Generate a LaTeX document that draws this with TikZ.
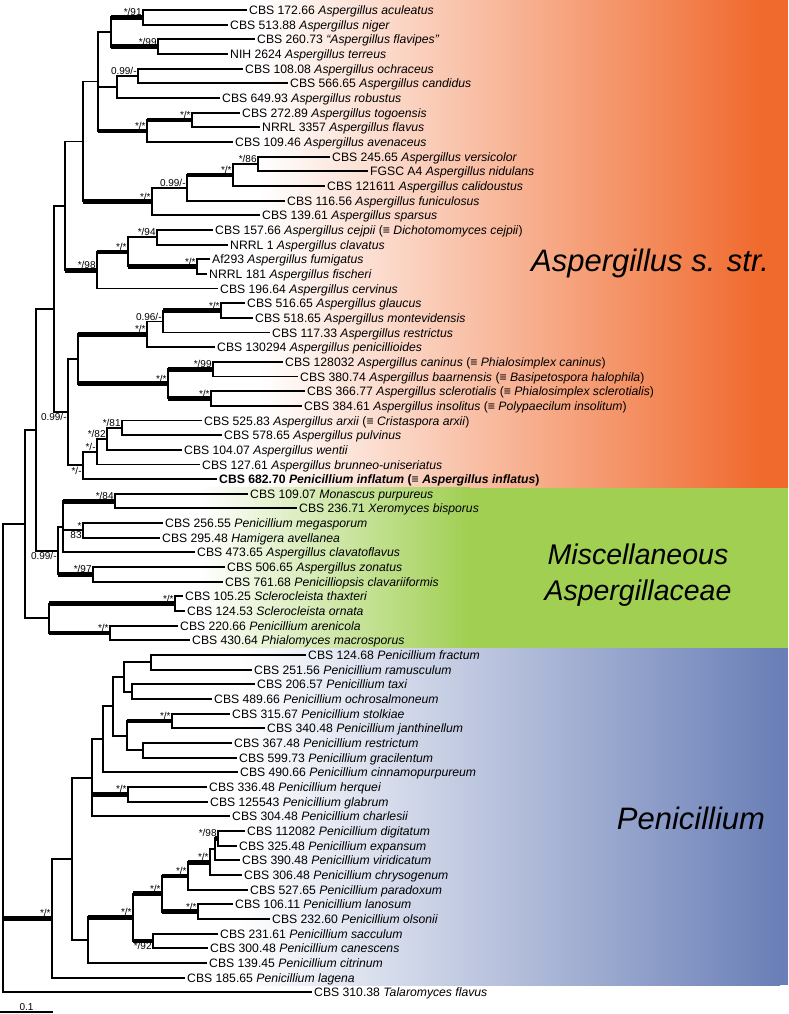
\documentclass[tikz,border=0pt]{standalone}
\usepackage{fontspec}
\setmainfont{Liberation Sans}
\definecolor{aspor}{RGB}{240,106,46}
\definecolor{misgr}{RGB}{160,207,82}
\definecolor{penbl}{RGB}{106,127,183}
\tikzset{
  br/.style={line width=1.9pt},
  brk/.style={line width=4.8pt},
  leaf/.style={anchor=west, inner sep=2pt, text height=9pt, text depth=0pt, font=\fontsize{12.2}{15}\selectfont},
  bs/.style={inner sep=1.2pt, font=\fontsize{10}{12}\selectfont},
  grp/.style={font=\fontsize{31}{36}\selectfont\itshape, align=center}
}
\begin{document}
\begin{tikzpicture}[x=1pt,y=-1pt]
\useasboundingbox (0,0) rectangle (788,1014);
\shade[left color=white, right color=aspor] (260,0) rectangle (760,487.5);
\fill[aspor] (759,0) rectangle (788,487.5);
\shade[left color=white, right color=misgr] (200,487.5) rectangle (470,648);
\fill[misgr] (469,487.5) rectangle (788,648);
\shade[left color=white, right color=penbl] (240,648) rectangle (780,985);
\fill[penbl] (779,648) rectangle (788,985);
\node[grp] (gasp) at (650,263) {Aspergillus s. str.};
\node[grp, font=\fontsize{28.5}{36}\selectfont\itshape] (gmis) at (638,575) {Miscellaneous\\Aspergillaceae};
\node[grp] (gpen) at (691,818) {Penicillium};

\node[leaf] (acul) at (247,10.0) {CBS 172.66 \textit{Aspergillus aculeatus}};
\node[leaf] (niger) at (228,24.7) {CBS 513.88 \textit{Aspergillus niger}};
\node[leaf] (flavip) at (255,39.3) {CBS 260.73 \textit{“Aspergillus flavipes”}};
\node[leaf] (terreus) at (228,54.0) {NIH 2624 \textit{Aspergillus terreus}};
\node[leaf] (ochrac) at (243,68.6) {CBS 108.08 \textit{Aspergillus ochraceus}};
\node[leaf] (candid) at (288,83.3) {CBS 566.65 \textit{Aspergillus candidus}};
\node[leaf] (robust) at (220,98.0) {CBS 649.93 \textit{Aspergillus robustus}};
\node[leaf] (togo) at (240,112.6) {CBS 272.89 \textit{Aspergillus togoensis}};
\node[leaf] (flavus) at (260,127.3) {NRRL 3357 \textit{Aspergillus flavus}};
\node[leaf] (avena) at (233,141.9) {CBS 109.46 \textit{Aspergillus avenaceus}};
\node[leaf] (versi) at (330,156.6) {CBS 245.65 \textit{Aspergillus versicolor}};
\node[leaf] (nidul) at (368,171.3) {FGSC A4 \textit{Aspergillus nidulans}};
\node[leaf] (calid) at (325,185.9) {CBS 121611 \textit{Aspergillus calidoustus}};
\node[leaf] (funic) at (285,200.6) {CBS 116.56 \textit{Aspergillus funiculosus}};
\node[leaf] (spars) at (260,215.2) {CBS 139.61 \textit{Aspergillus sparsus}};
\node[leaf] (cejpii) at (213,229.9) {CBS 157.66 \textit{Aspergillus cejpii} (≡ \textit{Dichotomomyces cejpii})};
\node[leaf] (clava) at (228,244.6) {NRRL 1 \textit{Aspergillus clavatus}};
\node[leaf] (fumig) at (210,259.2) {Af293 \textit{Aspergillus fumigatus}};
\node[leaf] (fisch) at (207,273.9) {NRRL 181 \textit{Aspergillus fischeri}};
\node[leaf] (cervin) at (218,288.5) {CBS 196.64 \textit{Aspergillus cervinus}};
\node[leaf] (glauc) at (245,303.2) {CBS 516.65 \textit{Aspergillus glaucus}};
\node[leaf] (monte) at (253,317.9) {CBS 518.65 \textit{Aspergillus montevidensis}};
\node[leaf] (restr) at (270,332.5) {CBS 117.33 \textit{Aspergillus restrictus}};
\node[leaf] (penici) at (215,347.2) {CBS 130294 \textit{Aspergillus penicillioides}};
\node[leaf] (canin) at (283,361.8) {CBS 128032 \textit{Aspergillus caninus} (≡ \textit{Phialosimplex caninus})};
\node[leaf] (baarn) at (298,376.5) {CBS 380.74 \textit{Aspergillus baarnensis} (≡ \textit{Basipetospora halophila})};
\node[leaf] (sclero) at (305,391.2) {CBS 366.77 \textit{Aspergillus sclerotialis} (≡ \textit{Phialosimplex sclerotialis})};
\node[leaf] (insol) at (302,405.8) {CBS 384.61 \textit{Aspergillus insolitus} (≡ \textit{Polypaecilum insolitum})};
\node[leaf] (arxii) at (202,420.5) {CBS 525.83 \textit{Aspergillus arxii} (≡ \textit{Cristaspora arxii})};
\node[leaf] (pulvin) at (222,435.1) {CBS 578.65 \textit{Aspergillus pulvinus}};
\node[leaf] (wentii) at (182,449.8) {CBS 104.07 \textit{Aspergillus wentii}};
\node[leaf] (brunn) at (200,464.5) {CBS 127.61 \textit{Aspergillus brunneo-uniseriatus}};
\node[leaf] (inflat) at (217,479.1) {\bfseries CBS 682.70 \textit{Penicillium inflatum} (≡ \textit{Aspergillus inflatus})};
\node[leaf] (monasc) at (248,493.8) {CBS 109.07 \textit{Monascus purpureus}};
\node[leaf] (xero) at (297,508.4) {CBS 236.71 \textit{Xeromyces bisporus}};
\node[leaf] (megas) at (163,523.1) {CBS 256.55 \textit{Penicillium megasporum}};
\node[leaf] (hamig) at (160,537.8) {CBS 295.48 \textit{Hamigera avellanea}};
\node[leaf] (clavfl) at (195,552.4) {CBS 473.65 \textit{Aspergillus clavatoflavus}};
\node[leaf] (zonat) at (225,567.1) {CBS 506.65 \textit{Aspergillus zonatus}};
\node[leaf] (clavar) at (223,581.7) {CBS 761.68 \textit{Penicilliopsis clavariiformis}};
\node[leaf] (thaxt) at (183,596.4) {CBS 105.25 \textit{Sclerocleista thaxteri}};
\node[leaf] (ornata) at (185,611.1) {CBS 124.53 \textit{Sclerocleista ornata}};
\node[leaf] (arenic) at (178,625.7) {CBS 220.66 \textit{Penicillium arenicola}};
\node[leaf] (phialo) at (190,640.4) {CBS 430.64 \textit{Phialomyces macrosporus}};
\node[leaf] (fract) at (306,655.0) {CBS 124.68 \textit{Penicillium fractum}};
\node[leaf] (ramus) at (252,669.7) {CBS 251.56 \textit{Penicillium ramusculum}};
\node[leaf] (taxi) at (255,684.4) {CBS 206.57 \textit{Penicillium taxi}};
\node[leaf] (ochros) at (212,699.0) {CBS 489.66 \textit{Penicillium ochrosalmoneum}};
\node[leaf] (stolk) at (230,713.7) {CBS 315.67 \textit{Penicillium stolkiae}};
\node[leaf] (janth) at (265,728.3) {CBS 340.48 \textit{Penicillium janthinellum}};
\node[leaf] (restrm) at (232,743.0) {CBS 367.48 \textit{Penicillium restrictum}};
\node[leaf] (gracil) at (237,757.7) {CBS 599.73 \textit{Penicillium gracilentum}};
\node[leaf] (cinnam) at (238,772.3) {CBS 490.66 \textit{Penicillium cinnamopurpureum}};
\node[leaf] (herq) at (207,787.0) {CBS 336.48 \textit{Penicillium herquei}};
\node[leaf] (glabr) at (208,801.6) {CBS 125543 \textit{Penicillium glabrum}};
\node[leaf] (charl) at (230,816.3) {CBS 304.48 \textit{Penicillium charlesii}};
\node[leaf] (digit) at (245,831.0) {CBS 112082 \textit{Penicillium digitatum}};
\node[leaf] (expan) at (237,845.6) {CBS 325.48 \textit{Penicillium expansum}};
\node[leaf] (virid) at (240,860.3) {CBS 390.48 \textit{Penicillium viridicatum}};
\node[leaf] (chrys) at (242,874.9) {CBS 306.48 \textit{Penicillium chrysogenum}};
\node[leaf] (parad) at (248,889.6) {CBS 527.65 \textit{Penicillium paradoxum}};
\node[leaf] (lanos) at (233,904.3) {CBS 106.11 \textit{Penicillium lanosum}};
\node[leaf] (olson) at (270,918.9) {CBS 232.60 \textit{Penicillium olsonii}};
\node[leaf] (saccul) at (218,933.6) {CBS 231.61 \textit{Penicillium sacculum}};
\node[leaf] (canesc) at (208,948.2) {CBS 300.48 \textit{Penicillium canescens}};
\node[leaf] (citrin) at (207,962.9) {CBS 139.45 \textit{Penicillium citrinum}};
\node[leaf] (lagena) at (185,977.6) {CBS 185.65 \textit{Penicillium lagena}};
\node[leaf] (talaro) at (312,992.2) {CBS 310.38 \textit{Talaromyces flavus}};

% inner nodes
\coordinate (a1) at (143,17.3);
\coordinate (a2) at (158,46.7);
\coordinate (a3) at (111,32);
\coordinate (a4) at (138,76);
\coordinate (a5) at (117,87);
\coordinate (a6) at (192,120);
\coordinate (a7) at (147,131);
\coordinate (a8) at (98,81.5);
\coordinate (a9) at (258,164);
\coordinate (a10) at (233,175);
\coordinate (a11) at (187,188);
\coordinate (a12) at (152,201.5);
\coordinate (a13) at (83,141.5);
\coordinate (a14) at (157,237.2);
\coordinate (a15) at (197,266.5);
\coordinate (a16) at (128,252);
\coordinate (a17) at (97,270.2);
\coordinate (a18) at (65,206);
\coordinate (a19) at (221,310.5);
\coordinate (a20) at (163,321.5);
\coordinate (a21) at (147,334.4);
\coordinate (a22) at (213,369.2);
\coordinate (a23) at (211,398.5);
\coordinate (a24) at (168,383.8);
\coordinate (a25) at (78,359);
\coordinate (a26) at (122,427.8);
\coordinate (a27) at (107,438.8);
\coordinate (a28) at (97,451.6);
\coordinate (a29) at (83,465.4);
\coordinate (a30) at (68,412.2);
\coordinate (a31) at (54,309);
\coordinate (a32) at (36,429.8);
\coordinate (m1) at (115,501.1);
\coordinate (m2) at (83,530.4);
\coordinate (m3) at (63,527);
\coordinate (m4) at (93,574.4);
\coordinate (m5) at (58,550.6);
\coordinate (m6) at (175,603.8);
\coordinate (m7) at (110,633);
\coordinate (m8) at (49,618.4);
\coordinate (r1) at (25,524);
\coordinate (p1) at (151,662.4);
\coordinate (p2) at (132,691.7);
\coordinate (p3) at (124,677);
\coordinate (p4) at (172,721);
\coordinate (p5) at (143,750.4);
\coordinate (p6) at (127,735.7);
\coordinate (p7) at (113,706.4);
\coordinate (p8) at (103,739.4);
\coordinate (p9) at (128,794.3);
\coordinate (p10) at (92,777.9);
\coordinate (p11) at (218,838.3);
\coordinate (p12) at (215,849.3);
\coordinate (p13) at (210,862.1);
\coordinate (p14) at (188,875.9);
\coordinate (p15) at (198,911.6);
\coordinate (p16) at (162,893.7);
\coordinate (p17) at (153,940.9);
\coordinate (p18) at (133,917.3);
\coordinate (p19) at (88,940.1);
\coordinate (p20) at (72,859);
\coordinate (p21) at (52,918.3);
\coordinate (root) at (3,758);

% forks
\draw[br] (acul.west) -| (a1) |- (niger.west);
\draw[br] (flavip.west) -| (a2) |- (terreus.west);
\draw[br] (a1) -| (a3) |- (a2);
\draw[br] (ochrac.west) -| (a4) |- (candid.west);
\draw[br] (a4) -| (a5) |- (robust.west);
\draw[br] (togo.west) -| (a6) |- (flavus.west);
\draw[br] (a6) -| (a7) |- (avena.west);
\draw[br] (a3) -| (a8) |- (a7) (a8) |- (a5);
\draw[br] (versi.west) -| (a9) |- (nidul.west);
\draw[br] (a9) -| (a10) |- (calid.west);
\draw[br] (a10) -| (a11) |- (funic.west);
\draw[br] (a11) -| (a12) |- (spars.west);
\draw[br] (a8) -| (a13) |- (a12);
\draw[br] (cejpii.west) -| (a14) |- (clava.west);
\draw[br] (fumig.west) -| (a15) |- (fisch.west);
\draw[br] (a14) -| (a16) |- (a15);
\draw[br] (a16) -| (a17) |- (cervin.west);
\draw[br] (a13) -| (a18) |- (a17);
\draw[br] (glauc.west) -| (a19) |- (monte.west);
\draw[br] (a19) -| (a20) |- (restr.west);
\draw[br] (a20) -| (a21) |- (penici.west);
\draw[br] (canin.west) -| (a22) |- (baarn.west);
\draw[br] (sclero.west) -| (a23) |- (insol.west);
\draw[br] (a22) -| (a24) |- (a23);
\draw[br] (a21) -| (a25) |- (a24);
\draw[br] (arxii.west) -| (a26) |- (pulvin.west);
\draw[br] (a26) -| (a27) |- (wentii.west);
\draw[br] (a27) -| (a28) |- (brunn.west);
\draw[br] (a28) -| (a29) |- (inflat.west);
\draw[br] (a25) -| (a30) |- (a29);
\draw[br] (a18) -| (a31) |- (a30);
\draw[br] (monasc.west) -| (m1) |- (xero.west);
\draw[br] (megas.west) -| (m2) |- (hamig.west);
\draw[br] (m1) -| (m3) |- (clavfl.west) (m3) |- (m2);
\draw[br] (zonat.west) -| (m4) |- (clavar.west);
\draw[br] (m3) -| (m5) |- (m4);
\draw[br] (a31) -| (a32) |- (m5);
\draw[br] (thaxt.west) -| (m6) |- (ornata.west);
\draw[br] (arenic.west) -| (m7) |- (phialo.west);
\draw[br] (m6) -| (m8) |- (m7);
\draw[br] (a32) -| (r1) |- (m8);
\draw[br] (fract.west) -| (p1) |- (ramus.west);
\draw[br] (taxi.west) -| (p2) |- (ochros.west);
\draw[br] (p1) -| (p3) |- (p2);
\draw[br] (stolk.west) -| (p4) |- (janth.west);
\draw[br] (restrm.west) -| (p5) |- (gracil.west);
\draw[br] (p4) -| (p6) |- (p5);
\draw[br] (p3) -| (p7) |- (p6);
\draw[br] (p7) -| (p8) |- (cinnam.west);
\draw[br] (herq.west) -| (p9) |- (glabr.west);
\draw[br] (p8) -| (p10) |- (charl.west) (p10) |- (p9);
\draw[br] (digit.west) -| (p11) |- (expan.west);
\draw[br] (p11) -| (p12) |- (virid.west);
\draw[br] (p12) -| (p13) |- (chrys.west);
\draw[br] (p13) -| (p14) |- (parad.west);
\draw[br] (lanos.west) -| (p15) |- (olson.west);
\draw[br] (p14) -| (p16) |- (p15);
\draw[br] (saccul.west) -| (p17) |- (canesc.west);
\draw[br] (p16) -| (p18) |- (p17);
\draw[br] (p18) -| (p19) |- (citrin.west);
\draw[br] (p10) -| (p20) |- (p19);
\draw[br] (p20) -| (p21) |- (lagena.west);
\draw[br] (r1) -| (root) |- (talaro.west) (root) |- (p21);

% supported branches
\draw[brk] (a3 |- a1) -- (a1);
\draw[brk] (a3 |- a2) -- (a2);
\draw[brk] (a7 |- a6) -- (a6);
\draw[brk] (a8 |- a7) -- (a7);
\draw[brk] (a11 |- a10) -- (a10);
\draw[brk] (a13 |- a12) -- (a12);
\draw[brk] (a16 |- a15) -- (a15);
\draw[brk] (a17 |- a16) -- (a16);
\draw[brk] (a18 |- a17) -- (a17);
\draw[brk] (a20 |- a19) -- (a19);
\draw[brk] (a25 |- a21) -- (a21);
\draw[brk] (a24 |- a22) -- (a22);
\draw[brk] (a24 |- a23) -- (a23);
\draw[brk] (a25 |- a24) -- (a24);
\draw[brk] (m3 |- m1) -- (m1);
\draw[brk] (m5 |- m4) -- (m4);
\draw[brk] (m8 |- m6) -- (m6);
\draw[brk] (m8 |- m7) -- (m7);
\draw[brk] (p6 |- p4) -- (p4);
\draw[brk] (p10 |- p9) -- (p9);
\draw[brk] (p12 |- p11) -- (p11);
\draw[brk] (p14 |- p13) -- (p13);
\draw[brk] (p16 |- p14) -- (p14);
\draw[brk] (p16 |- p15) -- (p15);
\draw[brk] (p18 |- p16) -- (p16);
\draw[brk] (p18 |- p17) -- (p17);
\draw[brk] (p19 |- p18) -- (p18);
\draw[brk] (root |- p21) -- (p21);

% support values
\node[bs, above left] (s1) at (a1) {*/91};
\node[bs, above left] (s2) at (a2) {*/99};
\node[bs, above left] (s4) at (a4) {0.99/-};
\node[bs, above left] (s6) at (a6) {*/*};
\node[bs, above left] (s7) at (a7) {*/*};
\node[bs, above left] (s9) at (a9) {*/86};
\node[bs, above left] (s10) at (a10) {*/*};
\node[bs, above left] (s11) at (a11) {0.99/-};
\node[bs, above left] (s12) at (a12) {*/*};
\node[bs, above left] (s14) at (a14) {*/94};
\node[bs, above left] (s15) at (a15) {*/*};
\node[bs, above left] (s16) at (a16) {*/*};
\node[bs, above left] (s17) at (a17) {*/98};
\node[bs, above left] (s19) at (a19) {*/*};
\node[bs, above left] (s20) at (a20) {0.96/-};
\node[bs, above left] (s21) at (a21) {*/*};
\node[bs, above left] (s22) at (a22) {*/99};
\node[bs, above left] (s23) at (a23) {*/*};
\node[bs, above left] (s24) at (a24) {*/*};
\node[bs, above left] (s26) at (a26) {*/81};
\node[bs, above left] (s27) at (a27) {*/82};
\node[bs, above left] (s28) at (a28) {*/-};
\node[bs, below left] (s29) at (a29) {*/-};
\node[bs, below left] (s30) at (a30) {0.99/-};
\node[bs, above left] (sm1) at (m1) {*/84};
\node[bs, above left] (sm2) at (m2) {*};
\node[bs, below left] (sm2b) at (m2) {83};
\node[bs, above left] (sm4) at (m4) {*/97};
\node[bs, below left] (sm5) at (m5) {0.99/-};
\node[bs, above left] (sm6) at (m6) {*/*};
\node[bs, above left] (sm7) at (m7) {*/*};
\node[bs, above left] (sp4) at (p4) {*/*};
\node[bs, above left] (sp9) at (p9) {*/*};
\node[bs, above left] (sp11) at (p11) {*/98};
\node[bs, above left] (sp13) at (p13) {*/*};
\node[bs, above left] (sp14) at (p14) {*/*};
\node[bs, above left] (sp15) at (p15) {*/*};
\node[bs, above left] (sp16) at (p16) {*/*};
\node[bs, below left] (sp17) at (p17) {*/92};
\node[bs, above left] (sp18) at (p18) {*/*};
\node[bs, above left] (sp21) at (p21) {*/*};

% scale
\coordinate (sb0) at (0,1012);
\coordinate (sb1) at (53,1012);
\draw[br] (sb0) -- (sb1);
\node[bs, above] (sbl) at (26.5,1012) {0.1};
\end{tikzpicture}
\end{document}
